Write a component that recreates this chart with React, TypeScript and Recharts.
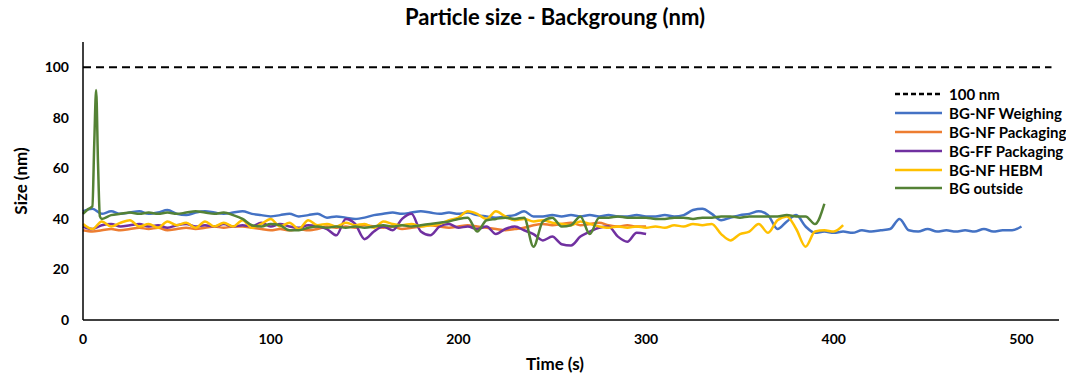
import { LineChart, Line, XAxis, YAxis } from "recharts"

const time = [
  0, 5, 10, 15, 20, 25, 30, 35, 40, 45, 50, 55, 60, 65, 70, 75, 80, 85, 90, 95,
  100, 105, 110, 115, 120, 125, 130, 135, 140, 145, 150, 155, 160, 165, 170, 175, 180, 185, 190, 195,
  200, 205, 210, 215, 220, 225, 230, 235, 240, 245, 250, 255, 260, 265, 270, 275, 280, 285, 290, 295,
  300, 305, 310, 315, 320, 325, 330, 335, 340, 345, 350, 355, 360, 365, 370, 375, 380, 385, 390, 395,
  400, 405, 410, 415, 420, 425, 430, 435, 440, 445, 450, 455, 460, 465, 470, 475, 480, 485, 490, 495,
  500,
]

const nfWeighing = [
  43, 44, 42, 43, 42, 42.5, 43, 42, 42.5, 43.5, 42, 41.5, 42.5, 43, 42.5, 42, 42.5, 43, 42, 41.5,
  41, 41.5, 42, 41, 41.5, 42, 40.5, 41, 40.5, 40, 40.5, 41.5, 42, 42.5, 42, 42.5, 43, 42.5, 42, 42.5,
  42, 42.5, 41.5, 41, 40.5, 41, 41.5, 43, 41, 41, 41.5, 41, 41.5, 41, 41.5, 41, 41.5, 41, 41, 41.5,
  41, 41, 41.5, 41, 41.5, 43.5, 44, 42, 39.5, 40.5, 41.5, 42, 43, 41.5, 36, 39, 41.5, 37, 34.5, 35,
  34.5, 35, 34.5, 35.5, 35, 35.5, 36, 40, 35.5, 35, 36, 35, 35.5, 35, 35.5, 35, 36, 35, 35.5, 35.5,
  37,
]

const nfPackaging = [
  35.5, 35, 35.5, 36, 35.5, 36, 36.5, 36, 36.5, 35.5, 36, 36.5, 36, 36.5, 37, 36.5, 37, 37, 36.5, 36,
  35.5, 36, 35.5, 36, 35.5, 36, 37, 36.5, 37, 36.5, 37.5, 37, 36.5, 37, 36, 36.5, 37, 37.5, 37, 36.5,
  37, 37.5, 37, 36.5, 36, 35.5, 36, 36.5, 37.5, 38, 37.5, 38, 38.5, 37.5, 38, 38.5, 37.5, 37, 37.5, 37,
  37,
]

const ffPackaging = [
  37, 36, 37.5, 38, 37, 37.5, 38, 37, 37.5, 36.5, 37.5, 38, 37, 37.5, 37, 38, 37, 37.5, 37, 38.5,
  37, 38, 37, 36.5, 37.5, 37, 36, 33.5, 40, 38, 32, 35, 37, 35.5, 40, 42, 35, 33.5, 37, 38,
  36.5, 37, 36, 37, 34, 36, 37, 35.5, 34, 31.5, 33, 30, 29.5, 33, 35, 36.5, 37, 33, 31, 34.5,
  34,
]

const nfHebm = [
  38, 36, 39, 37, 38.5, 39.5, 37, 38, 36.5, 39, 37.5, 38.5, 36.5, 39, 37, 38.5, 37, 39.5, 36.5, 38,
  40, 37, 38.5, 36, 39.5, 37.5, 38, 37, 38.5, 37.5, 38, 36.5, 39, 38, 37.5, 38, 37, 37.5, 38, 39.5,
  40.5, 43, 42, 40, 43, 41, 39.5, 40, 39, 39.5, 38.5, 38, 37.5, 39, 38, 37, 36.5, 37, 36.5, 37,
  36.5, 37, 36.5, 37.5, 37, 38, 37.5, 38, 34, 31.5, 34, 35, 38, 34.5, 39.5, 41, 36, 29, 35, 35.5,
  35, 37.5,
]

const outsideTime = [
  0, 3, 5, 6, 7, 8, 9, 10, 15, 20, 25, 30, 35, 40, 45, 50, 55, 60, 65, 70, 75, 80, 85, 90, 95,
  100, 105, 110, 115, 120, 125, 130, 135, 140, 145, 150, 155, 160, 165, 170, 175, 180, 185, 190, 195,
  200, 205, 210, 215, 220, 225, 230, 235, 240, 245, 250, 255, 260, 265, 270, 275, 280, 285, 290, 295,
  300, 305, 310, 315, 320, 325, 330, 335, 340, 345, 350, 355, 360, 365, 370, 375, 380, 385, 390, 395,
]

const outside = [
  42, 44, 45, 70, 91, 62, 41, 40, 41.5, 42, 42.5, 42, 42.5, 42, 42.5, 42, 42.5, 43, 42.5, 42, 42.5, 41.5, 40, 37.5, 37,
  38, 37.5, 35.5, 35.5, 36.5, 37, 36.5, 37, 36.5, 37, 36.5, 37, 37.5, 37, 37.5, 37, 37.5, 38, 38.5, 39,
  40, 40.5, 35, 39.5, 40, 40.5, 40, 40.5, 29, 39, 40.5, 37, 37.5, 41, 34, 40.5, 40.5, 41, 40.5, 40.5,
  40.5, 40, 40, 40.5, 40.5, 40, 40.5, 40.5, 41, 41, 40.5, 41, 41, 41, 41, 41.5, 41, 41, 38, 46,
]

const refTime = [0, 516]
const refSize = [100, 100]

const xTicks = [0, 100, 200, 300, 400, 500]
const yTicks = [0, 20, 40, 60, 80, 100]

const toPoints = (xs: number[], ys: number[]) => ys.map((v, i) => ({ t: xs[i], v }))

const series = [
  { name: "100 nm", color: "#000000", dash: "8 5", data: toPoints(refTime, refSize) },
  { name: "BG-NF Weighing", color: "#4472C4", data: toPoints(time, nfWeighing) },
  { name: "BG-NF Packaging", color: "#ED7D31", data: toPoints(time, nfPackaging) },
  { name: "BG-FF Packaging", color: "#7030A0", data: toPoints(time, ffPackaging) },
  { name: "BG-NF HEBM", color: "#FFC000", data: toPoints(time, nfHebm) },
  { name: "BG outside", color: "#548235", data: toPoints(outsideTime, outside) },
]

const font = "Lato, 'Open Sans', sans-serif"

function LegendBox() {
  return (
    <div style={{ position: "absolute", left: 895, top: 85, fontFamily: font, fontWeight: 700,
      fontSize: 15, color: "#000" }}>
      {series.map((s) => (
        <div key={s.name} style={{ display: "flex", alignItems: "center", height: 18.8 }}>
          <svg width={48} height={6} style={{ marginRight: 6 }}>
            <line x1={0} y1={3} x2={47} y2={3} stroke={s.color} strokeWidth={2.5}
              strokeDasharray={s.dash ? "5 3" : undefined} />
          </svg>
          <span style={{ whiteSpace: "nowrap" }}>{s.name}</span>
        </div>
      ))}
    </div>
  )
}

export default function App() {
  const tick = { fill: "#000", fontSize: 14, fontWeight: 700, fontFamily: font }
  return (
    <div style={{ position: "absolute", left: 0, top: 0, width: 1066, height: 379, background: "#fff" }}>
      <div style={{ position: "absolute", top: 3, left: 0, width: 1110, textAlign: "center",
        fontFamily: font, fontWeight: 700, fontSize: 22, color: "#000" }}>
        Particle size - Backgroung (nm)
      </div>
      <div style={{ position: "absolute", top: 353, left: 0, width: 1110, textAlign: "center",
        fontFamily: font, fontWeight: 700, fontSize: 17, color: "#000" }}>
        Time (s)
      </div>
      <div style={{ position: "absolute", left: 20, top: 181, transform: "translate(-50%, -50%) rotate(-90deg)",
        fontFamily: font, fontWeight: 700, fontSize: 17, color: "#000", whiteSpace: "nowrap" }}>
        Size (nm)
      </div>
      <LineChart width={1066} height={379} margin={{ top: 42, right: 7, bottom: 29, left: 23 }}>
        <XAxis dataKey="t" type="number" domain={[0, 520]} ticks={xTicks} tick={tick}
          tickLine={false} axisLine={{ stroke: "#000", strokeWidth: 1.5 }} height={30} tickMargin={8}
          allowDuplicatedCategory={false} />
        <YAxis type="number" domain={[0, 110]} ticks={yTicks} tick={tick} width={60}
          tickLine={false} axisLine={{ stroke: "#000", strokeWidth: 1.5 }} tickMargin={8} />
        {series.map((s) => (
          <Line key={s.name} data={s.data} dataKey="v" name={s.name} type={s.dash ? "linear" : "monotone"}
            stroke={s.color} strokeWidth={s.dash ? 2 : 2.5} strokeDasharray={s.dash} dot={false}
            activeDot={false} isAnimationActive={false} />
        ))}
      </LineChart>
      <LegendBox />
    </div>
  )
}
